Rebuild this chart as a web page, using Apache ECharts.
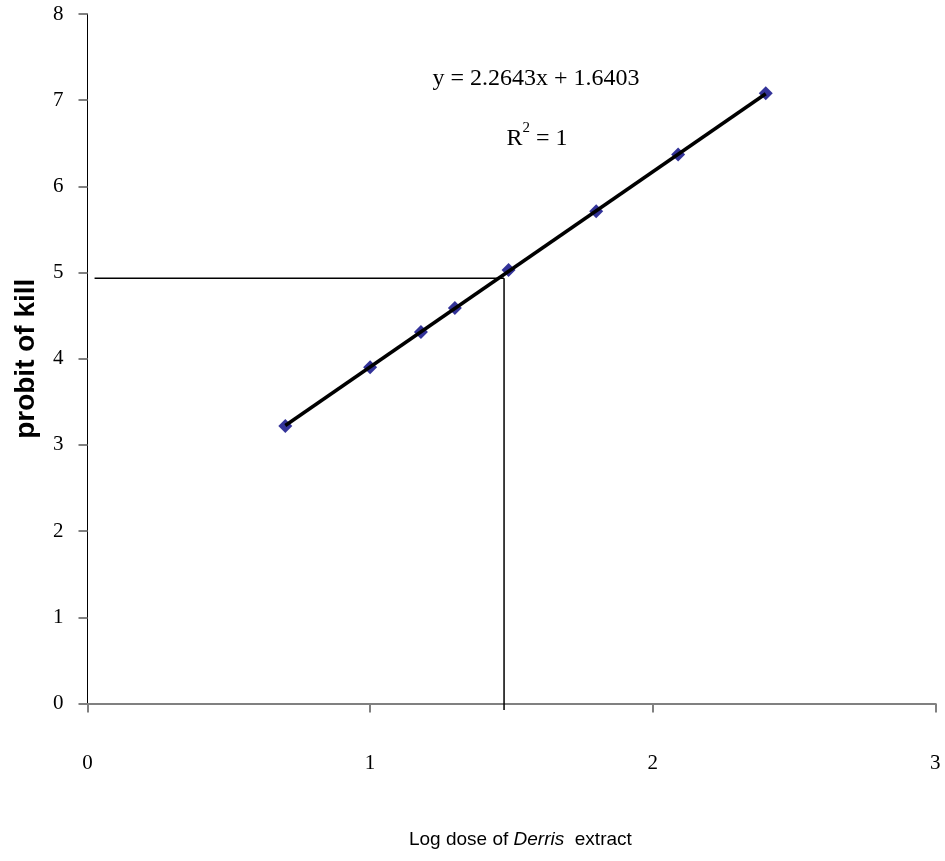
<!DOCTYPE html>
<html>
<head>
<meta charset="utf-8">
<script src="https://cdn.jsdelivr.net/npm/echarts@6/dist/echarts.min.js"></script>
<style>html,body{margin:0;padding:0;background:#fff}#c{width:945px;height:861px}</style>
</head>
<body>
<div id="c"></div>
<script>
// Data
const logDose = [0.70, 1.00, 1.18, 1.30, 1.49, 1.80, 2.09, 2.40];
const probit  = [3.22, 3.90, 4.31, 4.59, 5.03, 5.71, 6.37, 7.08];
const slope = 2.2643;
const intercept = 1.6403;
const equationText = 'y = 2.2643x + 1.6403';
const r2Value = '1';
const refX = [0.025, 1.474];   // horizontal reference line x-range
const refY = [4.933, -0.075];  // vertical reference line y-range
const xTicks = [0, 1, 2, 3];
const yTicks = [0, 1, 2, 3, 4, 5, 6, 7, 8];

const points = logDose.map((x, i) => [x, probit[i]]);
const xMin = Math.min(...logDose), xMax = Math.max(...logDose);
const trend = [[xMin, slope * xMin + intercept], [xMax, slope * xMax + intercept]];
const hLine = [[refX[0], refY[0]], [refX[1], refY[0]]];
const vLine = [[refX[1], refY[0]], [refX[1], refY[1]]];

const chart = echarts.init(document.getElementById('c'), null, {renderer: 'canvas'});
const serif = '"Liberation Serif", "Times New Roman", serif';
const sans = '"Liberation Sans", Arial, sans-serif';

chart.setOption({
  animation: false,
  backgroundColor: '#fff',
  grid: {left: 87.5, right: 9.7, top: 14, bottom: 157.5, containLabel: false, outerBoundsMode: 'none'},
  xAxis: {
    type: 'value', min: xTicks[0], max: xTicks[xTicks.length - 1], interval: 1,
    splitLine: {show: false},
    axisLine: {onZero: false, lineStyle: {color: '#808080', width: 2}},
    axisTick: {show: true, inside: false, length: 9, lineStyle: {color: '#808080', width: 2}},
    axisLabel: {margin: 49, fontFamily: serif, fontSize: 21, color: '#000'},
    name: 'Log dose of {i|Derris}  extract',
    nameLocation: 'middle', nameGap: 127,
    nameTextStyle: {
      fontFamily: sans, fontSize: 19, color: '#000', padding: [0, 0, 0, 18],
      rich: {i: {fontFamily: sans, fontSize: 19, fontStyle: 'italic', color: '#000'}}
    }
  },
  yAxis: {
    type: 'value', min: yTicks[0], max: yTicks[yTicks.length - 1], interval: 1,
    splitLine: {show: false},
    axisLine: {onZero: false, lineStyle: {color: '#000', width: 1}},
    axisTick: {show: true, inside: false, length: 9, lineStyle: {color: '#808080', width: 2}},
    axisLabel: {margin: 24, fontFamily: serif, fontSize: 21, color: '#000'},
    name: 'probit of kill',
    nameLocation: 'middle', nameGap: 47,
    nameTextStyle: {fontFamily: sans, fontSize: 28, fontWeight: 'bold', color: '#000'}
  },
  series: [
    {
      type: 'scatter', data: points, symbol: 'diamond', symbolSize: 14,
      itemStyle: {color: '#000080'}, z: 2
    },
    {
      type: 'line', data: trend, symbol: 'none', clip: false,
      lineStyle: {color: '#000', width: 3.5}, z: 3
    },
    {
      type: 'line', data: hLine, symbol: 'none', clip: false,
      lineStyle: {color: '#000', width: 1.5}, z: 1
    },
    {
      type: 'line', data: vLine, symbol: 'none', clip: false,
      lineStyle: {color: '#000', width: 1.5}, z: 1
    }
  ],
  graphic: [
    {
      type: 'text', x: 536, y: 79, z: 10,
      style: {text: equationText, fontFamily: serif, fontSize: 24, fill: '#000', align: 'center', verticalAlign: 'middle'}
    },
    {
      type: 'text', x: 537, y: 136, z: 10,
      style: {
        text: '{r|R}{s|2}{r| = ' + r2Value + '}',
        align: 'center', verticalAlign: 'middle',
        rich: {
          r: {fontFamily: serif, fontSize: 24, fill: '#000', verticalAlign: 'bottom', lineHeight: 30},
          s: {fontFamily: serif, fontSize: 15, fill: '#000', verticalAlign: 'top', lineHeight: 30}
        }
      }
    }
  ]
});
</script>
</body>
</html>
